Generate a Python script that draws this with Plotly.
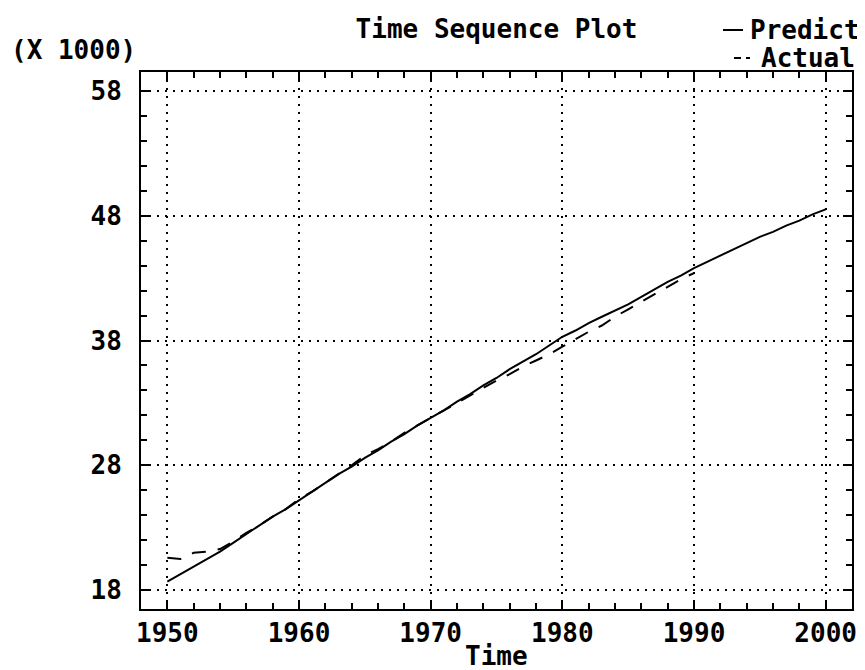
import plotly.graph_objects as go

# Values in thousands (axis labelled "(X 1000)")
years_predict = list(range(1950, 2001))
predict = [18.7, 19.3, 19.9, 20.5, 21.1, 21.8, 22.5, 23.2, 23.9, 24.5,
           25.2, 25.9, 26.6, 27.3, 27.9, 28.6, 29.2, 29.9, 30.5, 31.2,
           31.8, 32.4, 33.1, 33.7, 34.4, 35.0, 35.7, 36.3, 36.9, 37.6,
           38.3, 38.8, 39.4, 39.9, 40.4, 40.9, 41.5, 42.1, 42.7, 43.2,
           43.8, 44.3, 44.8, 45.3, 45.8, 46.3, 46.7, 47.2, 47.6, 48.1,
           48.5]

years_actual = list(range(1950, 1991))
actual = [20.6, 20.5, 21.0, 21.1, 21.3, 21.9, 22.6, 23.2, 23.9, 24.5,
          25.3, 25.9, 26.6, 27.3, 28.0, 28.8, 29.3, 29.9, 30.6, 31.2,
          31.8, 32.4, 33.0, 33.6, 34.2, 34.8, 35.3, 35.9, 36.4, 36.9,
          37.5, 38.1, 38.7, 39.2, 39.9, 40.5, 41.1, 41.7, 42.3, 42.9,
          43.4]

x_ticks = [1950, 1960, 1970, 1980, 1990, 2000]
y_ticks = [18, 28, 38, 48, 58]

FONT = "DejaVu Sans Mono"
L, R, T, B = 133, 21, 64, 69
W, H = 865, 670
PW, PH = W - L - R, H - T - B


def px(xp):
    return (xp - L) / PW


def py(yp):
    return (H - B - yp) / PH


def fnt(size=26):
    return dict(family=FONT, size=size, color="black", weight="bold")


fig = go.Figure()
fig.add_trace(go.Scatter(x=years_predict, y=predict, mode="lines", name="Predict",
                         line=dict(color="black", width=2), showlegend=False))
fig.add_trace(go.Scatter(x=years_actual, y=actual, mode="lines", name="Actual",
                         line=dict(color="black", width=2, dash="14px,12px"),
                         showlegend=False))

axis_common = dict(
    showline=True, linecolor="black", linewidth=2, mirror="ticks",
    ticks="inside", ticklen=9, tickwidth=2, tickcolor="black",
    showgrid=True, gridcolor="black", gridwidth=2, griddash="2px,6px",
    zeroline=False,
    tickfont=fnt(26),
)

fig.update_xaxes(range=[1948, 2002], tickvals=x_ticks,
                 ticktext=[str(v) for v in x_ticks],
                 minor=dict(dtick=2, tick0=1950, ticks="inside", ticklen=6,
                            tickwidth=2, tickcolor="black", showgrid=False),
                 **axis_common)
fig.update_yaxes(range=[16.5, 59.5], tickvals=y_ticks,
                 ticktext=[str(v) for v in y_ticks],
                 minor=dict(dtick=2, tick0=18, ticks="inside", ticklen=6,
                            tickwidth=2, tickcolor="black", showgrid=False),
                 ticklabelstandoff=12,
                 **axis_common)

# Legend drawn as text + line swatches (top right, as in the reference)
legend_items = [("Predict", "solid", 22, 715, 735, 854),
                ("Actual", "7px,5px", 50, 726, 742, 849)]
annotations = [
    dict(text="(X 1000)", xref="paper", yref="paper",
         x=px(1), xanchor="left", y=py(42), yanchor="middle",
         showarrow=False, font=fnt(26)),
    dict(text="Time", xref="paper", yref="paper",
         x=0.5, xanchor="center", y=py(665), yanchor="bottom",
         showarrow=False, font=fnt(26)),
]
shapes = []
for name, dash, yc, x0, x1, xr in legend_items:
    annotations.append(dict(text=name, xref="paper", yref="paper",
                            x=px(xr), xanchor="right", y=py(yc), yanchor="middle",
                            showarrow=False, font=fnt(26)))
    shapes.append(dict(type="line", xref="paper", yref="paper",
                       x0=px(x0), x1=px(x1), y0=py(yc), y1=py(yc),
                       line=dict(color="black", width=2, dash=dash)))

fig.update_layout(
    width=W, height=H,
    margin=dict(l=L, r=R, t=T, b=B, autoexpand=False),
    paper_bgcolor="white", plot_bgcolor="white",
    font=fnt(26),
    showlegend=False,
    title=dict(text="Time Sequence Plot", xref="paper", x=0.5, xanchor="center",
               yref="container", y=1 - 21 / H, yanchor="middle", font=fnt(26)),
    annotations=annotations,
    shapes=shapes,
)

fig.write_html("out.html")
